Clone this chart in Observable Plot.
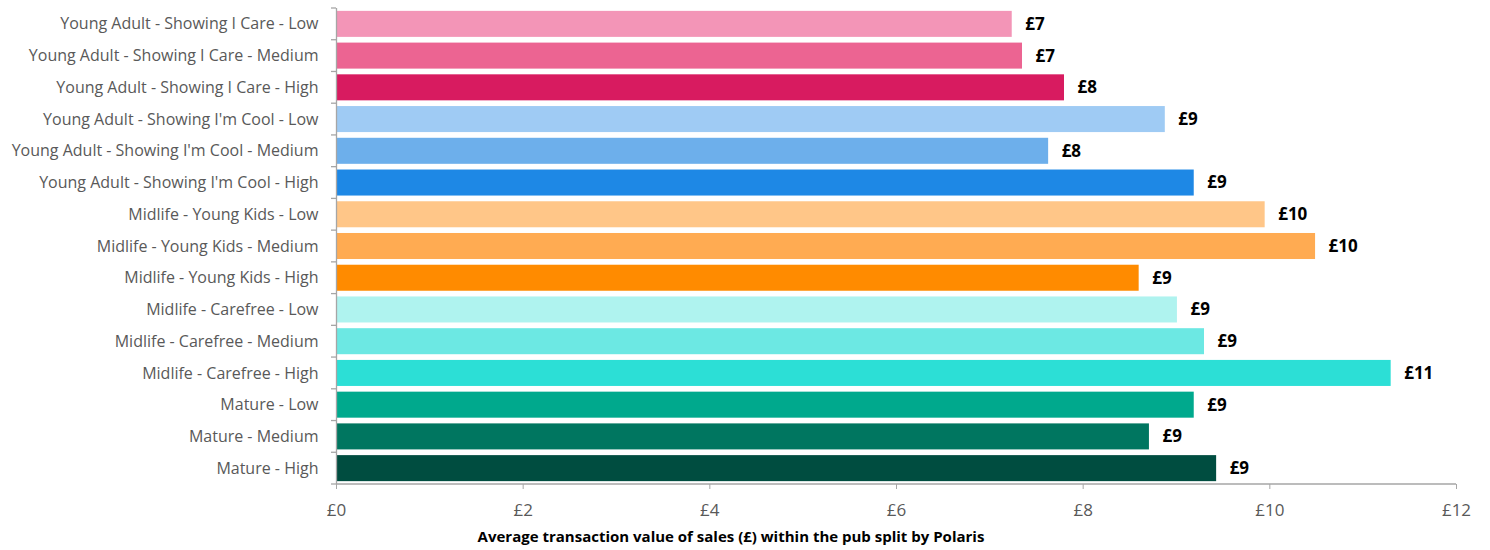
<!DOCTYPE html>
<html>
<head>
<meta charset="utf-8">
<script src="https://cdn.jsdelivr.net/npm/d3@7"></script>
<script src="https://cdn.jsdelivr.net/npm/@observablehq/plot@0.6"></script>
<style>
  body { margin: 0; background: #fff; }
  #chart { width: 1490px; height: 525px; }
  .caption { width: 1490px; box-sizing: border-box; padding-right: 28px; text-align: center;
    font-family: "Open Sans", sans-serif; font-weight: bold; font-size: 15px; color: #000; line-height: 22px; margin-top: 0px; }
</style>
</head>
<body>
<div id="chart"></div>
<div class="caption">Average transaction value of sales (£) within the pub split by Polaris</div>
<script>
const categories = [
  "Young Adult - Showing I Care - Low",
  "Young Adult - Showing I Care - Medium",
  "Young Adult - Showing I Care - High",
  "Young Adult - Showing I'm Cool - Low",
  "Young Adult - Showing I'm Cool - Medium",
  "Young Adult - Showing I'm Cool - High",
  "Midlife - Young Kids - Low",
  "Midlife - Young Kids - Medium",
  "Midlife - Young Kids - High",
  "Midlife - Carefree - Low",
  "Midlife - Carefree - Medium",
  "Midlife - Carefree - High",
  "Mature - Low",
  "Mature - Medium",
  "Mature - High"
];
const values = [7.24, 7.35, 7.80, 8.88, 7.63, 9.19, 9.95, 10.49, 8.60, 9.01, 9.30, 11.30, 9.19, 8.71, 9.43];
const valueLabels = ["£7", "£7", "£8", "£9", "£8", "£9", "£10", "£10", "£9", "£9", "£9", "£11", "£9", "£9", "£9"];
const colors = ["#F395B7", "#EC6492", "#D81B60", "#9FCBF4", "#6DAFEB", "#1E88E5",
  "#FFC688", "#FFAB52", "#FF8B00", "#AFF3EF", "#6CE8E3", "#2CDFD6", "#00A98D", "#007660", "#004D40"];
const xTicks = [0, 2, 4, 6, 8, 10, 12];

const data = categories.map((c, i) => ({category: c, value: values[i], label: valueLabels[i], color: colors[i]}));

const plot = Plot.plot({
  width: 1490,
  height: 525,
  marginLeft: 336,
  marginRight: 34,
  marginTop: 8,
  marginBottom: 41,
  style: {fontFamily: "'Open Sans', sans-serif", fontSize: "16px", color: "#595959", background: "#fff"},
  x: {domain: [0, 12], ticks: xTicks, label: null},
  y: {domain: categories, paddingInner: 0.18, paddingOuter: 0.09, round: false, label: null},
  color: {type: "identity"},
  marks: [
    Plot.barX(data, {y: "category", x: "value", fill: "color"}),
    Plot.text(data, {y: "category", x: "value", text: "label", textAnchor: "start", dx: 13,
      fill: "#000", fontWeight: "bold", fontSize: 17}),
    Plot.axisY({tickSize: 0, tickPadding: 18, fontSize: 16, fill: "#595959"}),
    Plot.axisX({ticks: xTicks, tickFormat: d => "£" + d, tickSize: 5, tickPadding: 14, fontSize: 17, stroke: "#a6a6a6", fill: "#595959"}),
    Plot.ruleX([0], {stroke: "#a6a6a6", strokeWidth: 1.3})
  ]
});

// Excel-style category boundary ticks and baseline, positioned from the library's scales
const ys = plot.scale("y");
const xs = plot.scale("x");
const x0 = xs.apply(0);
const x12 = xs.apply(12);
const svg = d3.select(plot.tagName === "svg" ? plot : plot.querySelector("svg"));
const step = ys.step;
const bounds = categories.map(c => ys.apply(c) - (step - ys.bandwidth) / 2);
bounds.push(bounds[bounds.length - 1] + step);
const g = svg.append("g").attr("stroke", "#a6a6a6").attr("stroke-width", 1.3);
g.selectAll("line.tk").data(bounds).join("line").attr("class", "tk")
  .attr("x1", x0 - 5).attr("x2", x0).attr("y1", d => d).attr("y2", d => d);
g.append("line").attr("x1", x0).attr("x2", x12)
  .attr("y1", bounds[bounds.length - 1]).attr("y2", bounds[bounds.length - 1]);

document.getElementById("chart").appendChild(plot);
</script>
</body>
</html>
